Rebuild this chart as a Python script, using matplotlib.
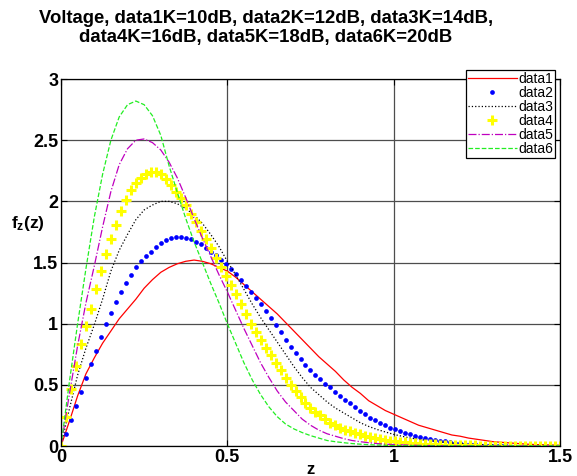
import numpy as np
import matplotlib
matplotlib.use('Agg')
import matplotlib.pyplot as plt

plt.rcParams['font.family'] = ['Liberation Sans', 'DejaVu Sans']
plt.rcParams['mathtext.fontset'] = 'custom'
plt.rcParams['mathtext.rm'] = 'Liberation Sans'
plt.rcParams['mathtext.bf'] = 'Liberation Sans:bold'

# z values
z_line = np.linspace(0, 1.5, 61)   # lines, step 0.025
z_dot = np.linspace(0, 1.5, 101)   # marker series, step 0.015

data1 = [0, 0.2, 0.41, 0.59, 0.72, 0.84, 0.94, 1.04, 1.12, 1.2,
         1.29, 1.36, 1.42, 1.46, 1.49, 1.51, 1.52, 1.51, 1.49, 1.46,
         1.43, 1.38, 1.32, 1.26, 1.2, 1.14, 1.08, 1.01, 0.94, 0.87,
         0.8, 0.73, 0.67, 0.61, 0.54, 0.48, 0.43, 0.37, 0.33, 0.29,
         0.26, 0.23, 0.2, 0.17, 0.15, 0.13, 0.11, 0.09, 0.08, 0.065,
         0.055, 0.045, 0.035, 0.03, 0.025, 0.02, 0.015, 0.012, 0.01, 0.008,
         0.006]

data2 = [0, 0.1, 0.21, 0.33, 0.44, 0.56, 0.67, 0.78, 0.89, 1.0,
         1.09, 1.18, 1.26, 1.33, 1.40, 1.46, 1.51, 1.55, 1.59, 1.63,
         1.66, 1.68, 1.70, 1.71, 1.71, 1.70, 1.69, 1.67, 1.65, 1.62,
         1.59, 1.56, 1.52, 1.49, 1.45, 1.41, 1.36, 1.31, 1.26, 1.21,
         1.16, 1.10, 1.05, 0.99, 0.93, 0.87, 0.81, 0.76, 0.71, 0.66,
         0.62, 0.58, 0.545, 0.51, 0.48, 0.445, 0.41, 0.38, 0.35, 0.32,
         0.29, 0.26, 0.23, 0.21, 0.19, 0.17, 0.15, 0.135, 0.12, 0.105,
         0.095, 0.085, 0.075, 0.065, 0.057, 0.05, 0.043, 0.037, 0.032, 0.027,
         0.023, 0.02, 0.017, 0.014, 0.012, 0.01, 0.008, 0.007, 0.006, 0.005,
         0.004, 0.003, 0.003, 0.002, 0.002, 0.001, 0.001, 0.001, 0.001, 0.001,
         0.001]

data3 = [0, 0.3, 0.58, 0.8, 0.99, 1.2, 1.43, 1.6, 1.73, 1.85,
         1.93, 1.97, 2.0, 2.0, 1.98, 1.94, 1.89, 1.82, 1.73, 1.63,
         1.51, 1.40, 1.28, 1.16, 1.05, 0.95, 0.85, 0.75, 0.65, 0.56,
         0.48, 0.42, 0.36, 0.31, 0.27, 0.23, 0.19, 0.16, 0.135, 0.115,
         0.095, 0.08, 0.065, 0.055, 0.045, 0.037, 0.03, 0.024, 0.019, 0.015,
         0.012, 0.009, 0.007, 0.005, 0.004, 0.003, 0.002, 0.002, 0.001, 0.001,
         0.001]

data4 = [0, 0.24, 0.47, 0.65, 0.83, 0.98, 1.12, 1.28, 1.43, 1.57,
         1.69, 1.81, 1.92, 2.01, 2.09, 2.15, 2.19, 2.22, 2.24, 2.24,
         2.22, 2.18, 2.13, 2.08, 2.03, 1.97, 1.90, 1.83, 1.76, 1.69,
         1.62, 1.54, 1.46, 1.39, 1.32, 1.24, 1.16, 1.08, 1.00, 0.93,
         0.87, 0.80, 0.74, 0.68, 0.62, 0.56, 0.50, 0.45, 0.40, 0.35,
         0.31, 0.28, 0.25, 0.22, 0.19, 0.17, 0.15, 0.13, 0.12, 0.105,
         0.095, 0.085, 0.075, 0.065, 0.058, 0.05, 0.044, 0.038, 0.033, 0.029,
         0.025, 0.022, 0.019, 0.017, 0.015, 0.013, 0.011, 0.01, 0.009, 0.008,
         0.007, 0.006, 0.005, 0.005, 0.004, 0.004, 0.003, 0.003, 0.003, 0.002,
         0.002, 0.002, 0.002, 0.001, 0.001, 0.001, 0.001, 0.001, 0.001, 0.001,
         0.001]

data5 = [0, 0.42, 0.82, 1.17, 1.47, 1.79, 2.08, 2.3, 2.43, 2.5,
         2.51, 2.48, 2.42, 2.32, 2.19, 2.03, 1.86, 1.7, 1.55, 1.4,
         1.26, 1.11, 0.96, 0.82, 0.68, 0.56, 0.45, 0.36, 0.29, 0.22,
         0.17, 0.13, 0.1, 0.08, 0.06, 0.045, 0.035, 0.027, 0.02, 0.015,
         0.012, 0.009, 0.007, 0.005, 0.004, 0.003, 0.002, 0.002, 0.001, 0.001,
         0.001, 0.001, 0.001, 0.001, 0.001, 0.001, 0.001, 0.001, 0.001, 0.001,
         0.001]

data6 = [0, 0.52, 1.0, 1.45, 1.87, 2.22, 2.5, 2.69, 2.79, 2.82,
         2.79, 2.7, 2.54, 2.29, 2.07, 1.86, 1.67, 1.5, 1.33, 1.17,
         1.0, 0.84, 0.68, 0.54, 0.42, 0.32, 0.24, 0.18, 0.14, 0.11,
         0.085, 0.065, 0.045, 0.035, 0.027, 0.02, 0.015, 0.011, 0.008, 0.006,
         0.004, 0.003, 0.002, 0.002, 0.001, 0.001, 0.001, 0.001, 0.001, 0.001,
         0.001, 0.001, 0.001, 0.001, 0.001, 0.001, 0.001, 0.001, 0.001, 0.001,
         0.001]

labels = ['data1', 'data2', 'data3', 'data4', 'data5', 'data6']
title = 'Voltage, data1K=10dB, data2K=12dB, data3K=14dB,\ndata4K=16dB, data5K=18dB, data6K=20dB'

fig = plt.figure(figsize=(5.77, 4.76), dpi=100)
ax = fig.add_axes([0.1057, 0.063, 0.8648, 0.771])

ax.plot(z_line, data1, color='r', lw=0.9, label=labels[0])
ax.plot(z_dot, data2, color='b', ls='none', marker='o', ms=3.4, mew=0, label=labels[1])
ax.plot(z_line, data3, color='k', ls=':', lw=0.9, label=labels[2])
ax.plot(z_dot, data4, color='yellow', ls='none', marker='+', ms=7.5, mew=2.2, label=labels[3])
ax.plot(z_line, data5, color='m', ls='-.', lw=0.9, label=labels[4])
ax.plot(z_line, data6, color='#22ee22', ls='--', lw=0.9, label=labels[5])

ax.set_xlim(0, 1.5)
ax.set_ylim(0, 3)
ax.set_xticks([0, 0.5, 1, 1.5])
ax.set_xticklabels(['0', '0.5', '1', '1.5'])
ax.set_yticks([0, 0.5, 1, 1.5, 2, 2.5, 3])
ax.set_yticklabels(['0', '0.5', '1', '1.5', '2', '2.5', '3'])
ax.tick_params(direction='in', top=True, right=True, length=4, width=0.8,
               labelsize=13, pad=2)
for t in ax.get_xticklabels() + ax.get_yticklabels():
    t.set_fontweight('bold')
ax.grid(True, color='0.3', lw=0.9, ls='-')
for s in ax.spines.values():
    s.set_linewidth(0.9)
    s.set_color('k')

ax.set_xlabel('z', fontsize=12, fontweight='bold', labelpad=-3)
ax.set_ylabel(r'$\mathbf{f_z(z)}$', fontsize=12.5, rotation=0)
ax.yaxis.set_label_coords(-0.066, 0.58)

fig.text(0.461, 0.978, title, ha='center', va='top', fontsize=13.3,
         fontweight='bold', linespacing=1.1)

leg = ax.legend(loc='upper right', bbox_to_anchor=(0.99, 1.025), fontsize=10,
                fancybox=False, framealpha=1, edgecolor='k', borderaxespad=0,
                borderpad=0.15, labelspacing=0.0, handlelength=3.5,
                handletextpad=0.1, numpoints=1)
leg.get_frame().set_linewidth(0.9)

fig.savefig('out.png', dpi=100)
